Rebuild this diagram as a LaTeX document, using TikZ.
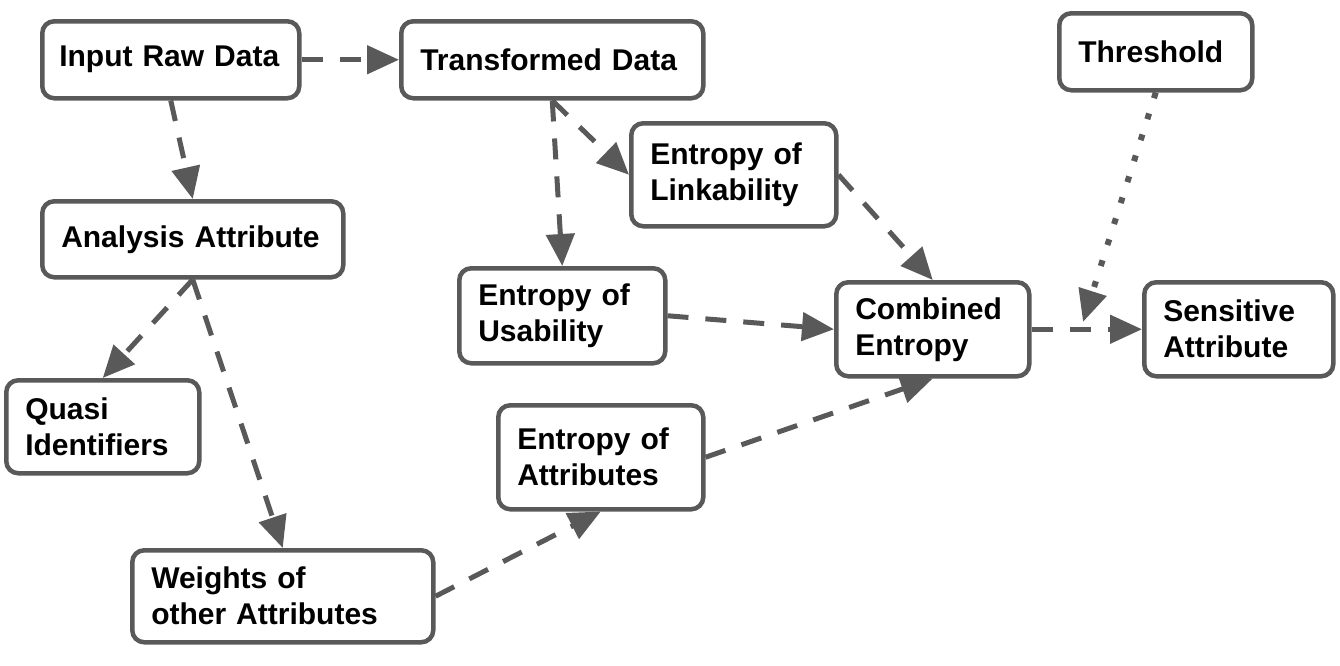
\documentclass[tikz,border=0pt]{standalone}
\usepackage{fontspec}
\setmainfont{Liberation Sans}
\usetikzlibrary{arrows.meta,calc}
\definecolor{edge}{HTML}{595959}
\tikzset{
  box/.style={draw=edge, line width=4.5pt, rounded corners=12pt, fill=white,
    anchor=north west, inner xsep=19pt, inner ysep=0pt, align=left,
    font=\fontsize{30}{36}\selectfont\bfseries},
  conn/.style={draw=edge, line width=5pt, dash pattern=on 21pt off 17pt,
    -{Triangle[length=32pt,width=28pt]}},
  dotconn/.style={draw=edge, line width=6pt, dash pattern=on 6pt off 16pt,
    -{Triangle[length=32pt,width=28pt]}}
}
\begin{document}
\begin{tikzpicture}[x=1pt,y=-1pt]
\useasboundingbox (0,0) rectangle (1340,665);
\node[box, inner xsep=17pt, text width=223pt, minimum height=77pt] (in) at (40,19) {Input Raw Data};
\node[box, text width=264pt, minimum height=77pt] (tr) at (399,19) {Transformed Data};
\node[box, text width=155pt, minimum height=77pt] (th) at (1057,11) {Threshold};
\node[box, text width=167pt, minimum height=103pt] (li) at (629,121) {Entropy of\\Linkability};
\node[box, text width=263pt, minimum height=76pt] (an) at (40,199) {Analysis Attribute};
\node[box, text width=168pt, minimum height=95pt] (us) at (457,266) {Entropy of\\Usability};
\node[box, text width=155pt, minimum height=94pt] (co) at (834,280) {Combined\\Entropy};
\node[box, text width=151pt, minimum height=94pt] (se) at (1142,280) {Sensitive\\Attribute};
\node[box, text width=155pt, minimum height=93pt] (qu) at (4,378) {Quasi\\Identifiers};
\node[box, text width=167pt, minimum height=104pt] (at) at (496,403) {Entropy of\\Attributes};
\node[box, text width=263pt, minimum height=92pt] (we) at (130,548) {Weights of\\other Attributes};
\coordinate (tp) at (1083,322);
\draw[conn] (in.east) -- (tr.west);
\draw[conn] (in.south) -- (an.north);
\draw[conn] (tr.south) -- (li.west);
\draw[conn] (tr.south) -- (us.north);
\draw[conn] (li.east) -- (co.north);
\draw[conn] (us.east) -- (co.west);
\draw[conn] (at.east) -- (co.south);
\draw[conn] (co.east) -- (se.west);
\draw[dotconn] (th.south) -- (tp);
\draw[conn] (an.south) -- (qu.north);
\draw[conn] (an.south) -- (we.north);
\draw[conn] (we.east) -- (at.south);
\end{tikzpicture}
\end{document}
